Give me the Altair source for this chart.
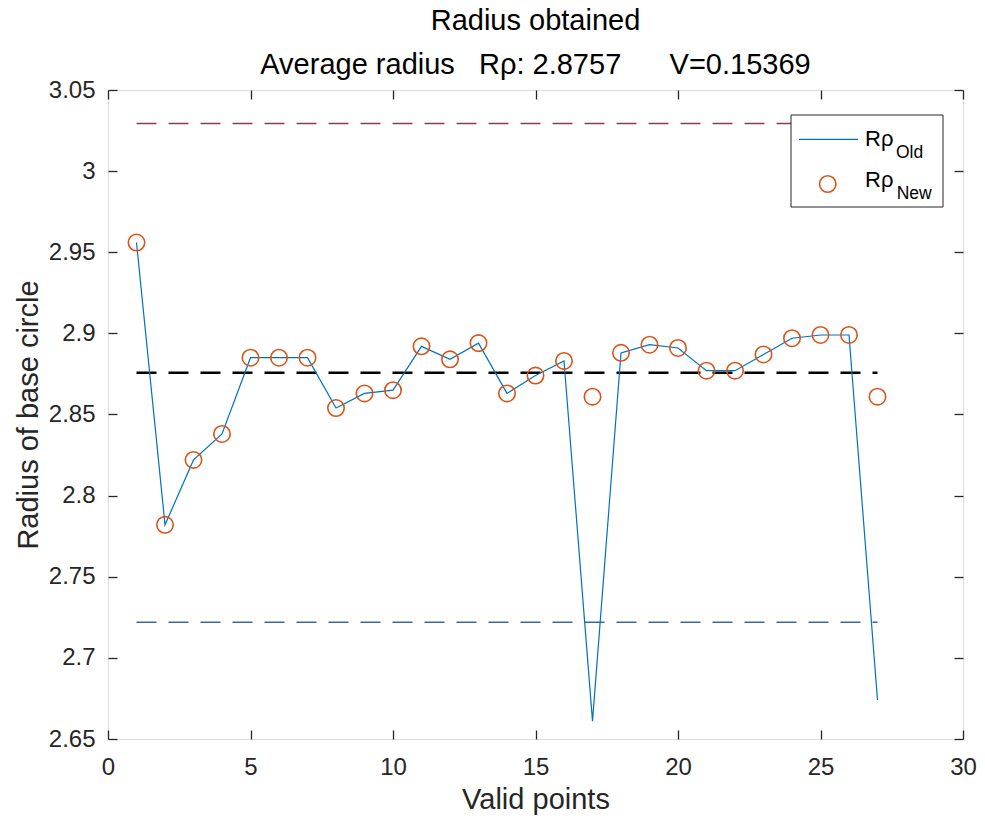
import altair as alt
import pandas as pd

# ---- data ----
points = list(range(1, 28))
r_old = [2.956, 2.782, 2.822, 2.838, 2.885, 2.885, 2.885, 2.854, 2.863, 2.865,
         2.892, 2.884, 2.894, 2.863, 2.874, 2.883, 2.661, 2.888, 2.893, 2.891,
         2.877, 2.877, 2.887, 2.897, 2.899, 2.899, 2.674]
r_new = [2.956, 2.782, 2.822, 2.838, 2.885, 2.885, 2.885, 2.854, 2.863, 2.865,
         2.892, 2.884, 2.894, 2.863, 2.874, 2.883, 2.861, 2.888, 2.893, 2.891,
         2.877, 2.877, 2.887, 2.897, 2.899, 2.899, 2.861]
mean_r = 2.8757
v_spread = 0.15369
ref_names = ["upper", "mean", "lower"]
ref_values = [mean_r + v_spread, mean_r, mean_r - v_spread]
ref_colors = ["#8E3A59", "#000000", "#3B6B9E"]
x_ticks = [0, 5, 10, 15, 20, 25, 30]
y_ticks = [2.65, 2.7, 2.75, 2.8, 2.85, 2.9, 2.95, 3.0, 3.05]
title_lines = ["Radius obtained",
               "Average radius\u00a0\u00a0\u00a0Rρ: 2.8757\u00a0\u00a0\u00a0\u00a0\u00a0\u00a0V=0.15369"]

FONT = "Liberation Sans"
TXT = "#262626"
W, H = 855, 649
PL, PT = 100, 82
OX = 8 + PL  # page x of the plot's left edge

df = pd.DataFrame({"x": points, "old": r_old, "new": r_new})
one = pd.DataFrame({"k": [0]})
ref_df = pd.DataFrame({"name": ref_names, "y": ref_values,
                       "x1": [points[0]] * 3, "x2": [points[-1]] * 3})

xscale = alt.Scale(domain=[0, 30], nice=False, zero=False)
yscale = alt.Scale(domain=[2.65, 3.05], nice=False, zero=False)

ax_x = alt.Axis(values=x_ticks, ticks=False, domain=False, grid=False,
                labelFontSize=24, labelFont=FONT, labelColor=TXT, labelPadding=16,
                labelFlush=False, labelOverlap=False,
                title="Valid points", titleFontSize=29, titleFont=FONT,
                titleFontWeight="normal", titleColor=TXT, titlePadding=6)
ax_y = alt.Axis(values=y_ticks, ticks=False, domain=False, grid=False, format="~g",
                labelFontSize=24, labelFont=FONT, labelColor=TXT, labelPadding=13,
                labelFlush=False, labelOverlap=False,
                title="Radius of base circle", titleFontSize=29, titleFont=FONT,
                titleFontWeight="normal", titleColor=TXT, titlePadding=5)

X = alt.X("x:Q", scale=xscale, axis=ax_x, title="Valid points")
Y_old = alt.Y("old:Q", scale=yscale, axis=ax_y, title="Radius of base circle")
Y_new = alt.Y("new:Q", scale=yscale, axis=ax_y, title="Radius of base circle")

line = alt.Chart(df).mark_line(color="#0072BD", strokeWidth=1.2).encode(x=X, y=Y_old)
pts = alt.Chart(df).mark_point(shape="circle", filled=False, color="#D95319",
                               size=270, strokeWidth=1.6, opacity=1).encode(x=X, y=Y_new)

def ref_rule(i, width, dash):
    d = ref_df.iloc[[i]]
    return alt.Chart(d).mark_rule(color=ref_colors[i], strokeWidth=width,
                                  strokeDash=dash).encode(
        x=alt.X("x1:Q", scale=xscale, axis=ax_x, title="Valid points"),
        x2="x2:Q",
        y=alt.Y("y:Q", scale=yscale, axis=ax_y, title="Radius of base circle"))

upper = ref_rule(0, 1.5, [20, 12])
meanl = ref_rule(1, 2.6, [20, 12])
lower = ref_rule(2, 1.5, [20, 12])

# legend (decoration, pixel placement inside the plot area)
LX = 791 - OX
leg_box = alt.Chart(one).mark_rect(fill="white", stroke=TXT, strokeWidth=1).encode(
    x=alt.value(LX), x2=alt.value(LX + 152), y=alt.value(25), y2=alt.value(117))
leg_line = alt.Chart(one).mark_rule(color="#0072BD", strokeWidth=1.2).encode(
    x=alt.value(LX + 8), x2=alt.value(LX + 67), y=alt.value(49.3))
leg_pt = alt.Chart(one).mark_point(shape="circle", filled=False, color="#D95319",
                                   size=270, strokeWidth=1.6, opacity=1).encode(
    x=alt.value(LX + 36.7), y=alt.value(94))
leg_r1 = alt.Chart(one).mark_text(text="Rρ", font=FONT, fontSize=22, align="left",
                                  baseline="alphabetic", color="#000").encode(
    x=alt.value(LX + 74), y=alt.value(55.7))
leg_s1 = alt.Chart(one).mark_text(text="Old", font=FONT, fontSize=17.5, align="left",
                                  baseline="alphabetic", color="#000").encode(
    x=alt.value(LX + 105), y=alt.value(68))
leg_r2 = alt.Chart(one).mark_text(text="Rρ", font=FONT, fontSize=22, align="left",
                                  baseline="alphabetic", color="#000").encode(
    x=alt.value(LX + 74), y=alt.value(97.3))
leg_s2 = alt.Chart(one).mark_text(text="New", font=FONT, fontSize=17.5, align="left",
                                  baseline="alphabetic", color="#000").encode(
    x=alt.value(LX + 105.7), y=alt.value(109.3))

main = alt.layer(upper, lower, meanl, line, pts, leg_box, leg_line, leg_pt,
                 leg_r1, leg_s1, leg_r2, leg_s2)

def tick_axis(vals, orient):
    return alt.Axis(values=vals, orient=orient, labels=False, domain=False,
                    grid=False, ticks=True, tickSize=9, tickWidth=1.3,
                    tickColor=TXT, offset=-9, title=None)

ticks1 = alt.Chart(df).mark_point(opacity=0).encode(
    x=alt.X("x:Q", scale=xscale, axis=tick_axis(x_ticks, "bottom")),
    y=alt.Y("new:Q", scale=yscale, axis=tick_axis(y_ticks, "left")))
ticks2 = alt.Chart(df).mark_point(opacity=0).encode(
    x=alt.X("x:Q", scale=xscale, axis=tick_axis(x_ticks, "top")),
    y=alt.Y("new:Q", scale=yscale, axis=tick_axis(y_ticks, "right")))

chart = alt.layer(main, ticks1, ticks2).resolve_axis(
    x="independent", y="independent"
).properties(
    width=W, height=H,
    title=alt.TitleParams(
        title_lines,
        font=FONT, fontSize=29, fontWeight="normal", color="#000",
        anchor="middle", lineHeight=44, offset=-1.5, frame="group"),
    autosize=alt.AutoSizeParams(type="none"),
    padding={"left": PL, "top": PT, "right": 977 - 8 - PL - W, "bottom": 76},
).configure_view(stroke=TXT, strokeWidth=1.3).configure(background="white")

chart.save("out.html", embed_options={"renderer": "svg", "actions": False})
